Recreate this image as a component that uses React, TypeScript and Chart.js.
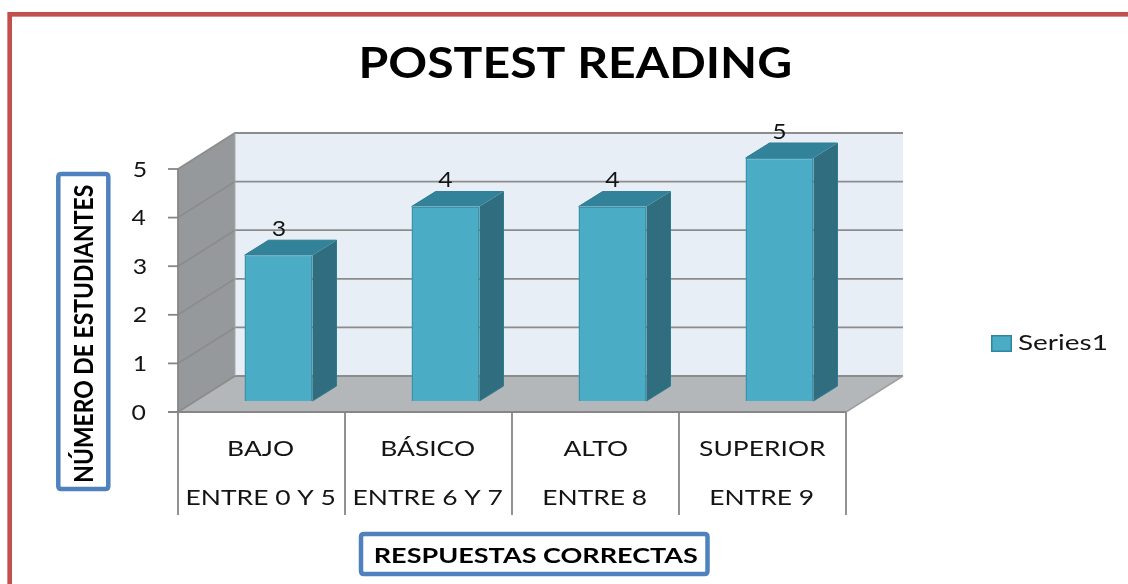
import React, { useEffect, useRef } from "react";
import { Chart, registerables } from "chart.js";

Chart.register(...registerables);

// ---- data ----
const categories = ["BAJO", "BÁSICO", "ALTO", "SUPERIOR"];
const ranges = ["ENTRE 0 Y 5", "ENTRE 6 Y 7", "ENTRE 8", "ENTRE 9"];
const seriesName = "Series1";
const seriesValues = [3, 4, 4, 5];
const yTicks = [0, 1, 2, 3, 4, 5];
const chartTitle = "POSTEST READING";
const yAxisTitle = "NÚMERO DE ESTUDIANTES";
const xAxisTitle = "RESPUESTAS CORRECTAS";

const W = 1128;
const H = 584;
const FAMILY = "Lato, 'Open Sans', sans-serif";

// 3D projection
const DX = 57;
const DY = -36;
const BAR_DX0 = 17; // bar front face offset (depth)
const BAR_DY0 = -11;
const BAR_DX = 24; // bar depth
const BAR_DY = -15;

function capRatio(ctx: CanvasRenderingContext2D, weight: string) {
  ctx.font = `${weight} 100px ${FAMILY}`;
  return ctx.measureText("H").actualBoundingBoxAscent / 100;
}

function setFont(ctx: CanvasRenderingContext2D, weight: string, capH: number) {
  const size = capH / capRatio(ctx, weight);
  ctx.font = `${weight} ${size}px ${FAMILY}`;
}

function inkW(ctx: CanvasRenderingContext2D, text: string) {
  const m = ctx.measureText(text);
  return m.actualBoundingBoxLeft + m.actualBoundingBoxRight;
}

function drawInk(
  ctx: CanvasRenderingContext2D,
  text: string,
  cx: number,
  cy: number,
  capH: number,
  sx: number,
  mode: "center" | "left" | "right"
) {
  const m = ctx.measureText(text);
  const l = -m.actualBoundingBoxLeft;
  const r = m.actualBoundingBoxRight;
  let x0 = cx - (sx * (l + r)) / 2;
  if (mode === "left") x0 = cx - sx * l;
  if (mode === "right") x0 = cx - sx * r;
  ctx.save();
  ctx.translate(x0, cy + capH / 2);
  ctx.scale(sx, 1);
  ctx.textAlign = "left";
  ctx.textBaseline = "alphabetic";
  ctx.fillText(text, 0, 0);
  ctx.restore();
}

function line(ctx: CanvasRenderingContext2D, pts: number[][], color: string, w: number) {
  ctx.beginPath();
  ctx.moveTo(pts[0][0], pts[0][1]);
  for (let i = 1; i < pts.length; i++) ctx.lineTo(pts[i][0], pts[i][1]);
  ctx.strokeStyle = color;
  ctx.lineWidth = w;
  ctx.stroke();
}

function poly(ctx: CanvasRenderingContext2D, pts: number[][], fill: string) {
  ctx.beginPath();
  ctx.moveTo(pts[0][0], pts[0][1]);
  for (let i = 1; i < pts.length; i++) ctx.lineTo(pts[i][0], pts[i][1]);
  ctx.closePath();
  ctx.fillStyle = fill;
  ctx.fill();
}

function roundRect(ctx: CanvasRenderingContext2D, x: number, y: number, w: number, h: number, r: number) {
  ctx.beginPath();
  ctx.moveTo(x + r, y);
  ctx.lineTo(x + w - r, y);
  ctx.quadraticCurveTo(x + w, y, x + w, y + r);
  ctx.lineTo(x + w, y + h - r);
  ctx.quadraticCurveTo(x + w, y + h, x + w - r, y + h);
  ctx.lineTo(x + r, y + h);
  ctx.quadraticCurveTo(x, y + h, x, y + h - r);
  ctx.lineTo(x, y + r);
  ctx.quadraticCurveTo(x, y, x + r, y);
  ctx.closePath();
}

const threeD = {
  id: "threeD",
  beforeDatasetsDraw(chart: any) {
    const { ctx, chartArea: a, scales } = chart;
    const y = scales.y;
    const x = scales.x;
    ctx.save();
    const bx = a.left + DX;
    const by = a.top + DY;
    // back wall
    ctx.fillStyle = "#E8EEF6";
    ctx.fillRect(bx, by, a.right - a.left, a.bottom - a.top);
    // left wall
    poly(ctx, [[a.left, a.top], [bx, by], [bx, a.bottom + DY], [a.left, a.bottom]], "#96999B");
    // floor
    poly(ctx, [[a.left, a.bottom], [bx, a.bottom + DY], [a.right + DX, a.bottom + DY], [a.right, a.bottom]], "#B3B7BA");
    // gridlines
    yTicks.forEach((v) => {
      const py = y.getPixelForValue(v);
      line(ctx, [[a.left, py], [bx, py + DY], [a.right + DX, py + DY]], "#8C8C8C", 1.8);
    });
    line(ctx, [[bx, by], [bx, a.bottom + DY]], "#A8A8A8", 1);
    line(ctx, [[a.right, a.bottom], [a.right + DX, a.bottom + DY]], "#A0A0A0", 1.5);
    // axes
    line(ctx, [[a.left, a.top], [a.left, a.bottom]], "#868686", 1.8);
    yTicks.forEach((v) => {
      const py = y.getPixelForValue(v);
      line(ctx, [[a.left - 10, py], [a.left, py]], "#868686", 1.8);
    });
    line(ctx, [[a.left - 10, a.bottom], [a.right, a.bottom]], "#868686", 1.8);
    const cw = (a.right - a.left) / categories.length;
    for (let i = 0; i <= categories.length; i++) {
      const px = i < categories.length ? x.getPixelForValue(i) - cw / 2 : x.getPixelForValue(i - 1) + cw / 2;
      line(ctx, [[px, a.bottom], [px, a.bottom + 103]], "#868686", 1.8);
    }
    // bar tops and sides
    const meta = chart.getDatasetMeta(0);
    meta.data.forEach((el: any) => {
      const p = el.getProps(["x", "y", "base", "width"], true);
      const L = p.x - p.width / 2 + BAR_DX0;
      const R = p.x + p.width / 2 + BAR_DX0;
      const T = p.y + BAR_DY0;
      const B = p.base + BAR_DY0;
      poly(ctx, [[R, T], [R + BAR_DX, T + BAR_DY], [R + BAR_DX, B + BAR_DY], [R, B]], "#2F6D7F");
      poly(ctx, [[L, T], [R, T], [R + BAR_DX, T + BAR_DY], [L + BAR_DX, T + BAR_DY]], "#32829A");
      line(ctx, [[L, T], [L + BAR_DX, T + BAR_DY], [R + BAR_DX, T + BAR_DY], [R + BAR_DX, B + BAR_DY], [R, B]], "#2C7C92", 1);
    });
    ctx.restore();
    ctx.save();
    ctx.translate(BAR_DX0, BAR_DY0);
  },
  afterDatasetsDraw(chart: any) {
    const { ctx, chartArea: a, scales } = chart;
    ctx.restore();
    const y = scales.y;
    const x = scales.x;
    ctx.save();
    ctx.fillStyle = "#141414";

    // category labels
    setFont(ctx, "normal", 16);
    const sxCat = 147 / inkW(ctx, ranges[0]);
    categories.forEach((c, i) => {
      const px = x.getPixelForValue(i);
      drawInk(ctx, c, px, 447.5, 16, sxCat, "center");
      drawInk(ctx, ranges[i], px, 497, 16, sxCat, "center");
    });

    // y tick labels
    setFont(ctx, "normal", 15);
    yTicks.forEach((v) => {
      drawInk(ctx, String(v), a.left - 32, y.getPixelForValue(v), 15, sxCat, "right");
    });

    // data labels
    const meta = chart.getDatasetMeta(0);
    meta.data.forEach((el: any, i: number) => {
      const p = el.getProps(["x", "y"], true);
      drawInk(ctx, String(seriesValues[i]), p.x + BAR_DX0, p.y + BAR_DY0 + BAR_DY - 12, 15, sxCat, "center");
    });

    // title
    ctx.fillStyle = "#000";
    setFont(ctx, "bold", 30);
    const sxT = 428 / inkW(ctx, chartTitle);
    drawInk(ctx, chartTitle, 576, 63, 30, sxT, "center");

    // x axis title with box
    ctx.strokeStyle = "#4F81BD";
    ctx.lineWidth = 4.5;
    roundRect(ctx, 361, 534, 346.5, 40, 3);
    ctx.stroke();
    setFont(ctx, "bold", 15.6);
    const sxX = 322 / inkW(ctx, xAxisTitle);
    drawInk(ctx, xAxisTitle, 536, 555.5, 15.6, sxX, "center");

    // y axis title with box
    roundRect(ctx, 58.3, 174, 50, 315, 3);
    ctx.stroke();
    ctx.save();
    ctx.translate(83, 333);
    ctx.rotate(-Math.PI / 2);
    setFont(ctx, "bold", 19);
    const sxY = 296 / inkW(ctx, yAxisTitle);
    drawInk(ctx, yAxisTitle, 0, 0, 19, sxY, "center");
    ctx.restore();

    // legend
    ctx.fillStyle = "#4BACC6";
    ctx.fillRect(991, 335, 21, 17);
    ctx.strokeStyle = "#31859C";
    ctx.lineWidth = 1.5;
    ctx.strokeRect(991.75, 335.75, 19.5, 15.5);
    ctx.fillStyle = "#141414";
    setFont(ctx, "normal", 16);
    const sxL = 89 / inkW(ctx, seriesName);
    drawInk(ctx, seriesName, 1018, 342, 16, sxL, "left");

    // outer red border
    ctx.strokeStyle = "#C0504D";
    ctx.lineWidth = 4.7;
    ctx.strokeRect(9.7, 14.3, W + 50, H + 50);
    ctx.restore();
  },
};

export default function App() {
  const ref = useRef<HTMLCanvasElement | null>(null);
  useEffect(() => {
    const canvas = ref.current;
    if (!canvas) return;
    const chart = new Chart(canvas, {
      type: "bar",
      data: {
        labels: categories.map((c, i) => [c, ranges[i]]),
        datasets: [
          {
            label: seriesName,
            data: seriesValues,
            backgroundColor: "#4BACC6",
            borderColor: "#3A93AB",
            borderWidth: 1.5,
            barPercentage: 0.407,
            categoryPercentage: 1,
            clip: false as any,
          },
        ],
      },
      options: {
        responsive: false,
        animation: false,
        devicePixelRatio: 1,
        events: [],
        layout: { padding: { left: 178, right: W - 846, top: 169, bottom: H - 412 } },
        plugins: {
          legend: { display: false },
          title: { display: false },
          tooltip: { enabled: false },
        },
        scales: {
          x: { display: false, offset: true },
          y: { display: false, min: 0, max: 5 },
        },
      },
      plugins: [threeD as any],
    });
    return () => chart.destroy();
  }, []);
  return (
    <div style={{ position: "fixed", left: 0, top: 0, width: W, height: H, background: "#fff" }}>
      <canvas ref={ref} width={W} height={H} style={{ width: W, height: H, display: "block" }} />
    </div>
  );
}
